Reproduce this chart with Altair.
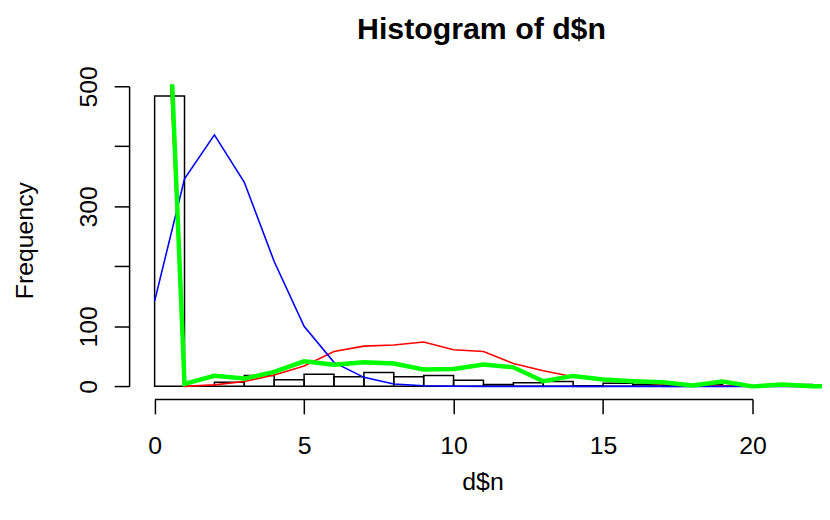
import altair as alt
import pandas as pd

# ---- data ----
bin_start = list(range(0, 22))
bin_counts = [484, 0, 7, 18, 11, 20, 16, 23, 16, 18, 10, 3, 6, 8, 1, 5, 3, 2, 3, 1, 1, 3]

x_red = list(range(0, 23))
red = [1090, 0, 2.5, 8, 19, 34, 58, 67, 69, 74, 61, 58, 38, 26, 16, 11, 7, 3.6, 1.5, 1, 0.3, 0.1, 0]

x_blue = list(range(0, 23))
blue = [142, 346, 419, 340, 208, 100, 40, 15, 4, 1, 0.3, 0, 0, 0, 0, 0, 0, 0, 0, 0, 0, 0, 0]

x_green = list(range(0, 24))
green = [1220, 4, 17.5, 13, 24, 41.7, 36, 40, 38, 28, 29, 36.5, 31.7, 8.6, 17.4, 11.3, 8.6, 7, 1.5, 8, 0, 3, 0.3, 0.5]

x_ticks = [0, 5, 10, 15, 20]
y_ticks = [0, 100, 200, 300, 400, 500]

bars = pd.DataFrame({"start": bin_start, "end": [s + 1 for s in bin_start], "count": bin_counts})
df_red = pd.DataFrame({"x": x_red, "y": red})
df_blue = pd.DataFrame({"x": x_blue, "y": blue})
df_green = pd.DataFrame({"x": x_green, "y": green})

FONT = "Liberation Sans"
FS = 25

x_scale = alt.Scale(domain=[0, 20], range=[25.7, 628.0], nice=False, zero=False)
y_scale = alt.Scale(domain=[0, 500], range=[304.3, 2], nice=False, zero=False)

x_axis = alt.Axis(
    values=x_ticks, tickSize=15, tickWidth=1.5, tickColor="black",
    domainColor="black", domainWidth=1.5, grid=False,
    labelFont=FONT, labelFontSize=FS, labelColor="black",
    labelBaseline="alphabetic", labelPadding=40, labelFlush=False, labelOverlap=False,
    title="d$n", titleFont=FONT, titleFontSize=FS, titleFontWeight="normal",
    titleColor="black", titleX=356, titleY=91, titleBaseline="alphabetic", titleAlign="center",
)
y_axis = alt.Axis(
    values=y_ticks, tickSize=15, tickWidth=1.5, tickColor="black",
    domainColor="black", domainWidth=1.5, grid=False,
    labelFont=FONT, labelFontSize=FS, labelColor="black",
    labelAngle=270, labelAlign="center", labelBaseline="alphabetic", labelPadding=18,
    labelFlush=False, labelOverlap=False,
    labelExpr="datum.value == 200 || datum.value == 400 ? '' : datum.label",
    title="Frequency", titleFont=FONT, titleFontSize=FS, titleFontWeight="normal",
    titleColor="black", titleAngle=270, titleX=-97, titleY=157,
    titleBaseline="alphabetic", titleAlign="center",
)

hist = alt.Chart(bars).mark_rect(fillOpacity=0, stroke="black", strokeWidth=1.5, clip=True).encode(
    x=alt.X("start:Q", scale=x_scale, axis=x_axis),
    x2="end:Q",
    y=alt.Y("count:Q", scale=y_scale, axis=y_axis),
    y2=alt.datum(0),
)

def line(df, color, width):
    return alt.Chart(df).mark_line(color=color, strokeWidth=width, clip=True).encode(
        x=alt.X("x:Q", scale=x_scale, axis=x_axis),
        y=alt.Y("y:Q", scale=y_scale, axis=y_axis),
    )

chart = alt.layer(
    hist,
    line(df_red, "#FF0000", 1.6),
    line(df_blue, "#0000FF", 1.6),
    line(df_green, "#00FF00", 4.5),
).properties(
    width=698,
    height=317,
    title=alt.Title("Histogram of d$n", font=FONT, fontSize=30.5, fontWeight="bold",
                    color="black", anchor="middle", dx=6, offset=20),
    autosize=alt.AutoSizeParams(type="none"),
    padding={"left": 122, "top": 75, "right": 0, "bottom": 112},
    background="white",
).configure_view(strokeWidth=0)

chart.save("out.html", embed_options={"renderer": "svg", "actions": False})
